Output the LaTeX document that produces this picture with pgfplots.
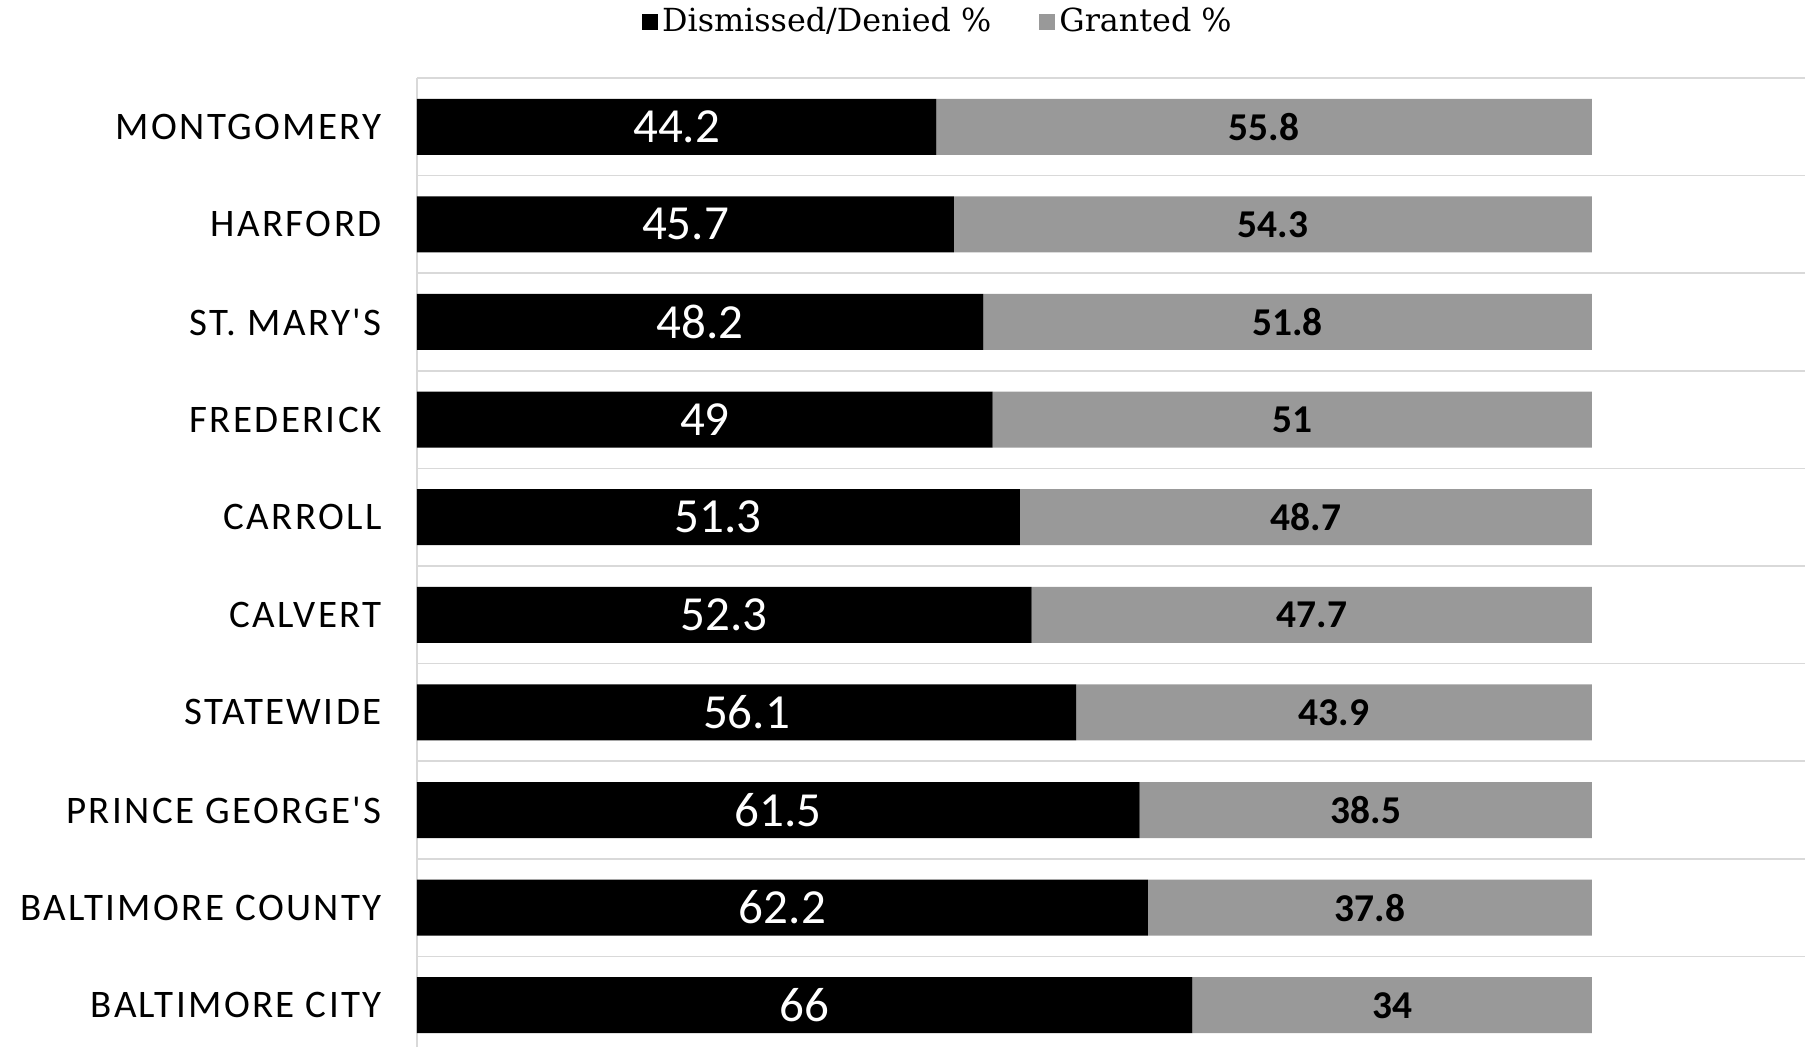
\documentclass[border=0pt]{standalone}
\usepackage{pgfplots}
\pgfplotsset{compat=1.18}
\usepackage{pgfplotstable}
\usepackage{fontspec}
\setmainfont{Carlito}
\newfontfamily\catfont[LetterSpace=6]{Carlito}
\newfontfamily\legfont{DejaVu Serif}
\definecolor{gridgray}{HTML}{D9D9D9}
\definecolor{bargray}{HTML}{999999}

% y = position from bottom, den = Dismissed/Denied %, gra = Granted %
\pgfplotstableread{
y den gra
0 66   34
1 62.2 37.8
2 61.5 38.5
3 56.1 43.9
4 52.3 47.7
5 51.3 48.7
6 49   51
7 48.2 51.8
8 45.7 54.3
9 44.2 55.8
}\courts

\begin{document}
\begin{tikzpicture}
  \begin{axis}[
      name=ax,
      scale only axis,
      width=694pt, height=484.5pt,
      xbar stacked,
      bar width=28pt,
      xmin=0, xmax=118.13,
      ymin=-0.428, ymax=9.5,
      clip=false,
      axis x line=none,
      axis y line*=left,
      axis line style={draw=gridgray, line width=0.85pt},
      xtick=\empty,
      ytick={0,...,9},
      yticklabels={BALTIMORE CITY, BALTIMORE COUNTY, PRINCE GEORGE'S, STATEWIDE,
        CALVERT, CARROLL, FREDERICK, ST. MARY'S, HARFORD, MONTGOMERY},
      y tick label style={font=\catfont\fontsize{19.5}{20}\selectfont,
        anchor=east, inner sep=0pt, xshift=-17.5pt},
      major tick length=0pt, minor tick length=0pt,
      minor ytick={0.5,1.5,...,9.5},
      yminorgrids=true,
      minor grid style={draw=gridgray, line width=0.85pt},
      legend columns=2,
      legend style={draw=none, at={(0.376,1.059)}, anchor=center,
        font=\legfont\fontsize{15.9}{16}\selectfont,
        /tikz/every even column/.append style={column sep=22pt},
        inner sep=0pt},
      legend image code/.code={\fill[#1] (0pt,-4.5pt) rectangle (8pt,3.5pt);},
      point meta=explicit symbolic,
      nodes near coords,
    ]
    \addplot[fill=black, draw=none,
      every node near coord/.append style={anchor=center, text=white,
        font=\fontsize{24.5}{25}\selectfont}]
      table[x=den, y=y, meta=den] {\courts};
    \addplot[fill=bargray, draw=none,
      every node near coord/.append style={anchor=center, text=black,
        font=\bfseries\fontsize{19.7}{20}\selectfont}]
      table[x=gra, y=y, meta=gra] {\courts};
    \legend{Dismissed/Denied \%, Granted \%}
  \end{axis}
  \pgfresetboundingbox
  \path[use as bounding box] ([xshift=-208.5pt]ax.south west)
    rectangle ([yshift=39pt]ax.north east);
\end{tikzpicture}
\end{document}
